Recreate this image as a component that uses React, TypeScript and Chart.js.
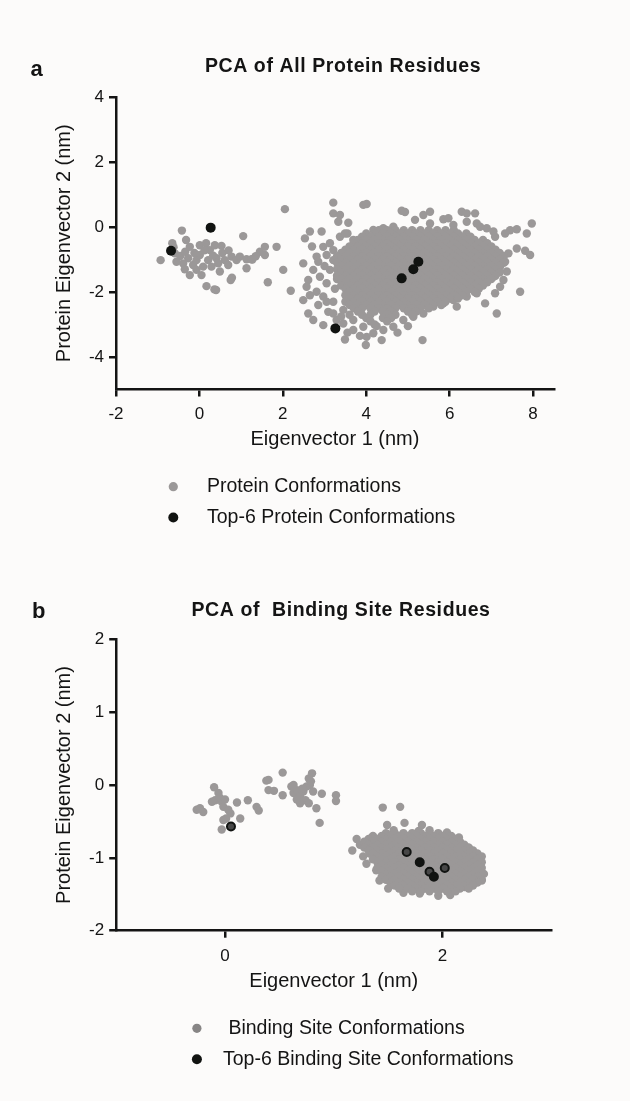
import { useEffect, useRef } from "react";
import { Chart, registerables } from "chart.js";

Chart.register(...registerables);

type Pair = [number, number];
type Row = [number, number[]];

// ---------- panel a: PCA of all protein residues ----------
const proteinXTicks = [-2, 0, 2, 4, 6, 8];
const proteinYTicks = [-4, -2, 0, 2, 4];
const proteinLabels = ["Protein Conformations", "Top-6 Protein Conformations"];

const proteinTop6: Pair[] = [
  [-0.68, -0.73], [0.27, -0.02], [3.26, -3.12], [4.85, -1.58], [5.13, -1.3], [5.25, -1.07],
];

// small cluster on the left of the plot
const proteinLeftGroup: Pair[] = [
  [-0.93, -1.02], [-0.65, -0.5], [-0.42, -0.11], [-0.32, -0.4], [-0.46, -0.89], [-0.34, -0.76],
  [-0.23, -0.61], [-0.27, -0.96], [-0.39, -1.12], [-0.35, -1.3], [-0.15, -1.17], [-0.07, -1.02],
  [0.01, -0.86], [0.01, -0.56], [0.16, -0.5], [0.25, -0.71], [0.37, -0.56], [0.53, -0.58],
  [0.41, -0.96], [0.21, -1.02], [0.29, -1.22], [0.05, -1.48], [0.17, -1.82], [0.4, -1.94],
  [0.49, -1.37], [0.61, -1.02], [0.69, -1.17], [0.77, -0.91], [0.89, -1.02], [0.97, -0.91],
  [1.13, -0.99], [1.25, -0.99], [1.13, -1.27], [0.78, -1.56], [1.05, -0.28], [1.45, -0.76],
  [1.57, -0.61], [1.57, -0.86], [1.85, -0.61], [1.64, -1.7], [2.01, -1.32], [2.05, 0.55],
  [2.19, -1.96], [0.09, -1.22], [-0.07, -1.32], [-0.23, -1.48], [-0.55, -1.07], [-0.59, -0.81],
  [-0.62, -0.62], [0.12, -0.72], [0.33, -0.88], [0.55, -0.8], [0.7, -0.72], [-0.12, -0.8],
  [0.45, -1.12], [1.35, -0.9], [1.27, -1.0], [0.75, -1.63], [0.36, -1.92],
];

// scattered conformations around the main cloud
const proteinScatter: Pair[] = [
  [3.21, 0.75], [3.93, 0.68], [4.01, 0.71], [3.21, 0.42], [3.37, 0.37], [3.57, 0.13], [3.33, 0.16],
  [2.65, -0.14], [2.53, -0.35], [2.93, -0.14], [3.55, -0.2], [3.37, -0.3], [4.85, 0.5], [4.93, 0.46],
  [5.17, 0.22], [5.37, 0.37], [5.53, 0.47], [5.85, 0.24], [5.97, 0.27], [6.29, 0.47], [6.41, 0.42],
  [6.61, 0.42], [6.65, 0.11], [6.89, -0.04], [7.09, -0.3], [7.33, -0.2], [7.45, -0.1], [7.61, -0.07],
  [7.85, -0.2], [7.97, 0.11], [7.61, -0.66], [7.81, -0.73], [7.93, -0.86], [7.41, -0.81], [7.69, -1.99],
  [7.13, -2.66], [6.85, -2.35], [7.05, -1.53], [7.21, -1.22], [7.29, -1.63], [4.17, -0.09], [4.41, -0.04],
  [4.65, 0.01], [5.53, 0.11], [6.09, 0.06], [6.41, 0.16], [6.73, 0.01], [7.05, -0.14], [3.69, -0.4],
  [3.49, -0.2], [7.33, -1.07], [7.37, -1.37], [7.21, -1.84], [7.09, -2.04],
  [2.49, -1.12], [2.61, -1.63], [2.57, -1.84], [2.49, -2.25], [2.61, -2.66], [2.73, -2.86], [2.97, -3.02],
  [2.81, -0.91], [2.85, -1.07], [2.97, -0.61], [3.13, -0.5], [2.73, -1.32], [2.89, -1.53], [3.05, -1.73],
  [2.81, -1.99], [2.97, -2.14], [3.21, -2.3], [3.13, -1.32], [3.21, -1.02], [3.05, -0.86], [3.21, -0.71],
  [2.85, -2.4], [3.09, -2.61], [3.29, -2.86], [3.45, -2.55], [3.69, -2.86], [3.93, -3.07], [4.17, -3.27],
  [4.41, -3.17], [4.65, -3.07], [4.89, -2.86], [5.13, -2.76], [5.37, -2.66], [3.69, -3.17], [4.01, -3.38],
  [3.45, -2.97], [3.21, -2.66], [3.49, -3.46], [3.99, -3.63], [4.37, -3.48], [5.35, -3.48], [5.61, -2.45],
  [5.85, -2.35], [6.09, -2.25], [6.41, -2.14], [6.65, -2.04], [6.17, -2.45], [3.05, -2.3], [2.65, -2.1],
  [3.3, -1.6], [3.25, -1.9], [3.0, -1.2], [2.7, -0.6], [3.55, -3.25], [3.85, -3.35], [4.25, -3.05],
  [4.75, -3.25], [5.0, -3.05], [3.4, -2.75], [3.6, -2.7],
];

// densely packed part of the main cloud: [y, x values]
const proteinCoreRows: Row[] = [
  [-0.1, [4.3, 4.5, 4.7, 4.9, 5.1, 5.3, 5.5, 5.7, 5.9, 6.1]],
  [-0.2, [4.0, 4.2, 4.4, 4.6, 4.8, 5.0, 5.2, 5.4, 5.6, 5.8, 6.0, 6.2, 6.4]],
  [-0.3, [3.9, 4.1, 4.3, 4.5, 4.7, 4.9, 5.1, 5.3, 5.5, 5.7, 5.9, 6.1, 6.3, 6.5]],
  [-0.4, [3.8, 4.0, 4.2, 4.4, 4.6, 4.8, 5.0, 5.2, 5.4, 5.6, 5.8, 6.0, 6.2, 6.4, 6.6, 6.8]],
  [-0.5, [3.7, 3.9, 4.1, 4.3, 4.5, 4.7, 4.9, 5.1, 5.3, 5.5, 5.7, 5.9, 6.1, 6.3, 6.5, 6.7, 6.9]],
  [-0.6, [3.6, 3.8, 4.0, 4.2, 4.4, 4.6, 4.8, 5.0, 5.2, 5.4, 5.6, 5.8, 6.0, 6.2, 6.4, 6.6, 6.8, 7.0]],
  [-0.7, [3.5, 3.7, 3.9, 4.1, 4.3, 4.5, 4.7, 4.9, 5.1, 5.3, 5.5, 5.7, 5.9, 6.1, 6.3, 6.5, 6.7, 6.9, 7.1]],
  [-0.8, [3.4, 3.6, 3.8, 4.0, 4.2, 4.4, 4.6, 4.8, 5.0, 5.2, 5.4, 5.6, 5.8, 6.0, 6.2, 6.4, 6.6, 6.8, 7.0, 7.2]],
  [-0.9, [3.3, 3.5, 3.7, 3.9, 4.1, 4.3, 4.5, 4.7, 4.9, 5.1, 5.3, 5.5, 5.7, 5.9, 6.1, 6.3, 6.5, 6.7, 6.9, 7.1, 7.3]],
  [-1.0, [3.4, 3.6, 3.8, 4.0, 4.2, 4.4, 4.6, 4.8, 5.0, 5.2, 5.4, 5.6, 5.8, 6.0, 6.2, 6.4, 6.6, 6.8, 7.0, 7.2]],
  [-1.1, [3.3, 3.5, 3.7, 3.9, 4.1, 4.3, 4.5, 4.7, 4.9, 5.1, 5.3, 5.5, 5.7, 5.9, 6.1, 6.3, 6.5, 6.7, 6.9, 7.1, 7.3]],
  [-1.2, [3.4, 3.6, 3.8, 4.0, 4.2, 4.4, 4.6, 4.8, 5.0, 5.2, 5.4, 5.6, 5.8, 6.0, 6.2, 6.4, 6.6, 6.8, 7.0, 7.2]],
  [-1.3, [3.3, 3.5, 3.7, 3.9, 4.1, 4.3, 4.5, 4.7, 4.9, 5.1, 5.3, 5.5, 5.7, 5.9, 6.1, 6.3, 6.5, 6.7, 6.9, 7.1]],
  [-1.4, [3.4, 3.6, 3.8, 4.0, 4.2, 4.4, 4.6, 4.8, 5.0, 5.2, 5.4, 5.6, 5.8, 6.0, 6.2, 6.4, 6.6, 6.8, 7.0, 7.2]],
  [-1.5, [3.3, 3.5, 3.7, 3.9, 4.1, 4.3, 4.5, 4.7, 4.9, 5.1, 5.3, 5.5, 5.7, 5.9, 6.1, 6.3, 6.5, 6.7, 6.9, 7.1]],
  [-1.6, [3.4, 3.6, 3.8, 4.0, 4.2, 4.4, 4.6, 4.8, 5.0, 5.2, 5.4, 5.6, 5.8, 6.0, 6.2, 6.4, 6.6, 6.8, 7.0]],
  [-1.7, [3.5, 3.7, 3.9, 4.1, 4.3, 4.5, 4.7, 4.9, 5.1, 5.3, 5.5, 5.7, 5.9, 6.1, 6.3, 6.5, 6.7, 6.9]],
  [-1.8, [3.4, 3.6, 3.8, 4.0, 4.2, 4.4, 4.6, 4.8, 5.0, 5.2, 5.4, 5.6, 5.8, 6.0, 6.2, 6.4, 6.6, 6.8]],
  [-1.9, [3.5, 3.7, 3.9, 4.1, 4.3, 4.5, 4.7, 4.9, 5.1, 5.3, 5.5, 5.7, 5.9, 6.1, 6.3, 6.5, 6.7]],
  [-2.0, [3.6, 3.8, 4.0, 4.2, 4.4, 4.6, 4.8, 5.0, 5.2, 5.4, 5.6, 5.8, 6.0, 6.2, 6.4, 6.6]],
  [-2.1, [3.5, 3.7, 3.9, 4.1, 4.3, 4.5, 4.7, 4.9, 5.1, 5.3, 5.5, 5.7, 5.9, 6.1, 6.3]],
  [-2.2, [3.6, 3.8, 4.0, 4.2, 4.4, 4.6, 4.8, 5.0, 5.2, 5.4, 5.6, 5.8, 6.0, 6.2]],
  [-2.3, [3.5, 3.7, 3.9, 4.1, 4.3, 4.5, 4.7, 4.9, 5.1, 5.3, 5.5, 5.7, 5.9]],
  [-2.4, [3.6, 3.8, 4.0, 4.2, 4.4, 4.6, 4.8, 5.0, 5.2, 5.4, 5.6, 5.8]],
  [-2.5, [3.7, 3.9, 4.1, 4.3, 4.5, 4.7, 4.9, 5.1, 5.3, 5.5]],
  [-2.6, [3.8, 4.2, 4.4, 4.6, 5.0, 5.2]],
  [-2.7, [3.9, 4.1, 4.5, 4.7, 5.1]],
  [-2.8, [4.0, 4.4, 4.6]],
  [-2.9, [4.1, 4.5]],
  [-3.0, [4.2]],
];

// ---------- panel b: PCA of binding site residues ----------
const bindingXTicks = [0, 2];
const bindingYTicks = [-2, -1, 0, 1, 2];
const bindingLabels = [" Binding Site Conformations", "Top-6 Binding Site Conformations"];

const bindingTop6: Pair[] = [
  [0.055, -0.57], [1.67, -0.92], [1.79, -1.06], [1.88, -1.19], [1.92, -1.26], [2.02, -1.14],
];

const bindingLeftGroup: Pair[] = [
  [-0.26, -0.34], [-0.2, -0.37], [-0.23, -0.32], [-0.1, -0.03], [-0.06, -0.11], [-0.09, -0.21],
  [-0.03, -0.23], [-0.015, -0.3], [0.03, -0.34], [0.05, -0.39], [-0.12, -0.23], [0.11, -0.24],
  [0.21, -0.21], [0.29, -0.3], [0.31, -0.35], [0.14, -0.46], [-0.015, -0.48], [-0.03, -0.61],
  [-0.05, -0.17], [0.0, -0.2], [0.01, -0.46],
];

const bindingMiddleGroup: Pair[] = [
  [0.38, 0.06], [0.4, -0.07], [0.45, -0.08], [0.53, 0.17], [0.53, -0.14], [0.61, -0.02], [0.63, -0.11],
  [0.66, -0.07], [0.69, -0.16], [0.72, -0.09], [0.74, -0.21], [0.69, -0.25], [0.77, -0.25], [0.78, 0.0],
  [0.8, 0.16], [0.77, 0.09], [0.81, -0.09], [0.75, -0.02], [0.89, -0.12], [0.84, -0.32], [0.87, -0.52],
  [1.02, -0.14], [1.02, -0.22], [0.63, 0.0], [0.4, 0.07], [0.71, -0.05], [0.79, 0.05], [0.66, -0.2],
];

const bindingScatter: Pair[] = [
  [1.45, -0.31], [1.61, -0.3], [1.65, -0.52], [1.49, -0.55], [1.81, -0.55], [2.04, -0.65], [1.21, -0.74],
  [1.17, -0.9], [2.24, -0.86], [2.3, -0.98], [2.31, -1.17], [2.36, -1.31], [1.64, -1.48], [1.79, -1.49],
  [1.96, -1.52], [2.07, -1.51], [1.24, -0.82], [1.27, -0.98], [1.33, -0.94], [1.3, -1.08], [1.39, -1.17],
  [1.42, -1.31], [1.55, -0.62], [1.88, -0.62], [2.15, -0.72], [1.35, -0.72], [2.2, -1.4], [1.5, -1.42],
  [2.38, -1.22], [1.78, -0.63],
];

const bindingCoreRows: Row[] = [
  [-0.66, [1.48, 1.56, 1.64, 1.72, 1.8, 1.88, 1.96]],
  [-0.7, [1.36, 1.44, 1.52, 1.6, 1.68, 1.76, 1.84, 1.92, 2.0, 2.08]],
  [-0.74, [1.32, 1.4, 1.48, 1.56, 1.64, 1.72, 1.8, 1.88, 1.96, 2.04, 2.12]],
  [-0.78, [1.28, 1.36, 1.44, 1.52, 1.6, 1.68, 1.76, 1.84, 1.92, 2.0, 2.08, 2.16]],
  [-0.82, [1.32, 1.4, 1.48, 1.56, 1.64, 1.72, 1.8, 1.88, 1.96, 2.04, 2.12, 2.2]],
  [-0.86, [1.28, 1.36, 1.44, 1.52, 1.6, 1.68, 1.76, 1.84, 1.92, 2.0, 2.08, 2.16, 2.24]],
  [-0.9, [1.32, 1.4, 1.48, 1.56, 1.64, 1.72, 1.8, 1.88, 1.96, 2.04, 2.12, 2.2, 2.28]],
  [-0.94, [1.36, 1.44, 1.52, 1.6, 1.68, 1.76, 1.84, 1.92, 2.0, 2.08, 2.16, 2.24, 2.32]],
  [-0.98, [1.4, 1.48, 1.56, 1.64, 1.72, 1.8, 1.88, 1.96, 2.04, 2.12, 2.2, 2.28, 2.36]],
  [-1.02, [1.36, 1.44, 1.52, 1.6, 1.68, 1.76, 1.84, 1.92, 2.0, 2.08, 2.16, 2.24, 2.32]],
  [-1.06, [1.4, 1.48, 1.56, 1.64, 1.72, 1.8, 1.88, 1.96, 2.04, 2.12, 2.2, 2.28, 2.36]],
  [-1.1, [1.44, 1.52, 1.6, 1.68, 1.76, 1.84, 1.92, 2.0, 2.08, 2.16, 2.24, 2.32]],
  [-1.14, [1.4, 1.48, 1.56, 1.64, 1.72, 1.8, 1.88, 1.96, 2.04, 2.12, 2.2, 2.28, 2.36]],
  [-1.18, [1.44, 1.52, 1.6, 1.68, 1.76, 1.84, 1.92, 2.0, 2.08, 2.16, 2.24, 2.32]],
  [-1.22, [1.48, 1.56, 1.64, 1.72, 1.8, 1.88, 1.96, 2.04, 2.12, 2.2, 2.28, 2.36]],
  [-1.26, [1.44, 1.52, 1.6, 1.68, 1.76, 1.84, 1.92, 2.0, 2.08, 2.16, 2.24, 2.32]],
  [-1.3, [1.48, 1.56, 1.64, 1.72, 1.8, 1.88, 1.96, 2.04, 2.12, 2.2, 2.28, 2.36]],
  [-1.34, [1.52, 1.6, 1.68, 1.76, 1.84, 1.92, 2.0, 2.08, 2.16, 2.24, 2.32]],
  [-1.38, [1.56, 1.64, 1.72, 1.8, 1.88, 1.96, 2.04, 2.12, 2.2, 2.28]],
  [-1.42, [1.6, 1.68, 1.76, 1.84, 1.92, 2.0, 2.08, 2.16, 2.24]],
  [-1.46, [1.72, 1.8, 1.88, 1.96, 2.04, 2.12]],
];

// ---------- styling ----------
const FONT = '"Liberation Sans", Arial, Helvetica, sans-serif';
const INK = "#141414";
const CLOUD = "#9b9898";
const TOP = "#111311";
const TOP_FILL_B = ["#474747", "#474747", "#111311", "#474747", "#111311", "#474747"];

const pairs = (list: Pair[]) => list.map(([x, y]) => ({ x, y }));
const rows = (list: Row[]) => list.flatMap(([y, xs]) => xs.map((x) => ({ x, y })));

// panel letter, bold title and the two-entry legend under each plot
const decorPlugin = {
  id: "panelDecor",
  afterDraw(chart: any, _args: any, opts: any) {
    const ctx = chart.ctx as CanvasRenderingContext2D;
    ctx.save();
    ctx.fillStyle = INK;
    ctx.textBaseline = "alphabetic";
    ctx.textAlign = "left";
    ctx.font = `bold 22px ${FONT}`;
    ctx.fillText(opts.letter, opts.letterX, opts.letterY);

    ctx.font = `bold 19.5px ${FONT}`;
    (ctx as any).letterSpacing = "0.6px";
    ctx.textAlign = "center";
    ctx.fillText(opts.title, opts.titleX, opts.titleY);
    (ctx as any).letterSpacing = "0px";

    ctx.font = `19.5px ${FONT}`;
    ctx.textAlign = "left";
    ctx.textBaseline = "middle";
    chart.data.datasets.forEach((ds: any, i: number) => {
      const y = opts.legendY[i];
      ctx.beginPath();
      ctx.arc(opts.markerX, y, opts.markerR[i], 0, Math.PI * 2);
      ctx.fillStyle = opts.markerColors[i];
      ctx.fill();
      ctx.fillStyle = INK;
      ctx.fillText(ds.label, opts.textX, y);
    });
    ctx.restore();
  },
};

interface Panel {
  height: number;
  area: { left: number; right: number; top: number; bottom: number };
  xMin: number;
  xMax: number;
  yMin: number;
  yMax: number;
  xTicks: number[];
  yTicks: number[];
  xTitlePad: number;
  cloud: { x: number; y: number }[];
  top: { x: number; y: number }[];
  topStyle: any;
  labels: string[];
  decor: any;
}

function build(canvas: HTMLCanvasElement, p: Panel) {
  const tickFont = { family: FONT, size: 17 };
  const titleFont = { family: FONT, size: 20 };
  const grid = {
    display: true,
    drawOnChartArea: false,
    drawTicks: true,
    tickLength: 7,
    color: INK,
    lineWidth: 2.5,
  };
  const border = { display: true, color: INK, width: 2.5 };
  return new Chart(canvas, {
    type: "scatter",
    data: {
      datasets: [
        {
          label: p.labels[0],
          data: p.cloud,
          pointRadius: 4.2,
          pointBackgroundColor: CLOUD,
          pointBorderWidth: 0,
          pointBorderColor: CLOUD,
          order: 2,
        },
        { label: p.labels[1], data: p.top, order: 1, ...p.topStyle },
      ],
    },
    options: {
      responsive: false,
      animation: false,
      events: [],
      layout: {
        padding: { top: p.area.top, right: 630 - p.area.right, bottom: 0, left: 0 },
      },
      plugins: {
        legend: { display: false },
        tooltip: { enabled: false },
        title: { display: false },
        panelDecor: p.decor,
      } as any,
      scales: {
        x: {
          type: "linear",
          min: p.xMin,
          max: p.xMax,
          afterBuildTicks: (s: any) => {
            s.ticks = p.xTicks.map((value) => ({ value }));
          },
          afterFit: (s: any) => {
            s.height = p.height - p.area.bottom;
          },
          grid,
          border,
          ticks: { color: INK, font: tickFont, padding: 8, maxRotation: 0, autoSkip: false },
          title: {
            display: true,
            text: "Eigenvector 1 (nm)",
            color: INK,
            font: titleFont,
            padding: { top: 0, bottom: p.xTitlePad },
          },
        },
        y: {
          type: "linear",
          min: p.yMin,
          max: p.yMax,
          afterBuildTicks: (s: any) => {
            s.ticks = p.yTicks.map((value) => ({ value }));
          },
          afterFit: (s: any) => {
            s.width = p.area.left;
          },
          grid,
          border,
          ticks: { color: INK, font: tickFont, padding: 5, autoSkip: false },
          title: {
            display: true,
            text: "Protein Eigenvector 2 (nm)",
            color: INK,
            font: titleFont,
            padding: { top: 52, bottom: 0 },
          },
        },
      },
    } as any,
    plugins: [decorPlugin as any],
  });
}

const panelA: Panel = {
  height: 550,
  area: { left: 116, right: 553.9, top: 97, bottom: 389.5 },
  xMin: -2,
  xMax: 8.5,
  yMin: -5,
  yMax: 4,
  xTicks: proteinXTicks,
  yTicks: proteinYTicks,
  xTitlePad: 98.5,
  cloud: [...pairs(proteinLeftGroup), ...pairs(proteinScatter), ...rows(proteinCoreRows)],
  top: pairs(proteinTop6),
  topStyle: { pointRadius: 5, pointBackgroundColor: TOP, pointBorderWidth: 0, pointBorderColor: TOP },
  labels: proteinLabels,
  decor: {
    letter: "a",
    letterX: 30.5,
    letterY: 76,
    title: "PCA of All Protein Residues",
    titleX: 343,
    titleY: 71.5,
    legendY: [486.7, 517.5],
    markerX: 173.3,
    markerR: [4.6, 5],
    markerColors: ["#9b9898", TOP],
    textX: 207,
  },
};

const panelB: Panel = {
  height: 551,
  area: { left: 116.2, right: 551.4, top: 89.3, bottom: 380.7 },
  xMin: -1,
  xMax: 3,
  yMin: -2,
  yMax: 2,
  xTicks: bindingXTicks,
  yTicks: bindingYTicks,
  xTitlePad: 108,
  cloud: [
    ...pairs(bindingLeftGroup),
    ...pairs(bindingMiddleGroup),
    ...pairs(bindingScatter),
    ...rows(bindingCoreRows),
  ],
  top: pairs(bindingTop6),
  topStyle: {
    pointRadius: 4,
    pointBackgroundColor: TOP_FILL_B,
    pointBorderWidth: 2,
    pointBorderColor: TOP,
  },
  labels: bindingLabels,
  decor: {
    letter: "b",
    letterX: 32,
    letterY: 68.3,
    title: "PCA of  Binding Site Residues",
    titleX: 341,
    titleY: 65.5,
    legendY: [478.3, 509.3],
    markerX: 196.9,
    markerR: [4.6, 5],
    markerColors: ["#878585", TOP],
    textX: 223,
  },
};

export default function App() {
  const refA = useRef<HTMLCanvasElement>(null);
  const refB = useRef<HTMLCanvasElement>(null);

  useEffect(() => {
    const a = build(refA.current!, panelA);
    const b = build(refB.current!, panelB);
    return () => {
      a.destroy();
      b.destroy();
    };
  }, []);

  return (
    <div
      style={{
        position: "absolute",
        left: 0,
        top: 0,
        width: 630,
        height: 1101,
        background: "#fcfbfa",
        overflow: "hidden",
      }}
    >
      <canvas
        ref={refA}
        width={630}
        height={550}
        style={{ position: "absolute", left: 0, top: 0, display: "block" }}
      />
      <canvas
        ref={refB}
        width={630}
        height={551}
        style={{ position: "absolute", left: 0, top: 550, display: "block" }}
      />
    </div>
  );
}
